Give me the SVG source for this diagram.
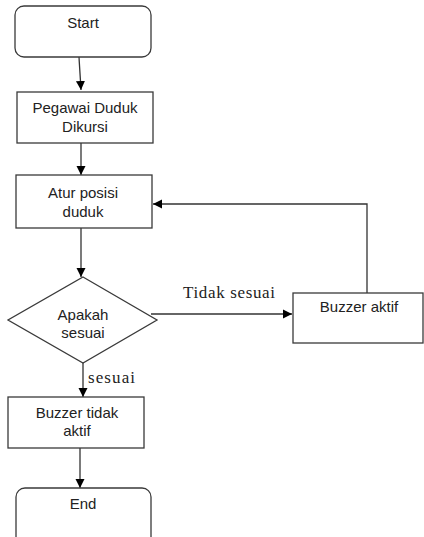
<svg xmlns="http://www.w3.org/2000/svg" width="424" height="537" viewBox="0 0 424 537">
<defs>
<marker id="ah" markerWidth="10" markerHeight="10" refX="9" refY="5" orient="auto" markerUnits="userSpaceOnUse">
<path d="M0,0.5 L9,5 L0,9.5 Z" fill="#000"/>
</marker>
<style>
.n{fill:#fff;stroke:#3a3a3a;stroke-width:1.3}
.t{font-family:"Liberation Sans",Arial,sans-serif;font-size:15px;fill:#222;text-anchor:middle}
.s{font-family:"Liberation Serif","Times New Roman",serif;font-size:17px;fill:#222}
.c{fill:none;stroke:#333;stroke-width:1.3}
</style>
</defs>
<rect width="424" height="537" fill="#fff"/>
<g id="connectors">
<path class="c" d="M79,57 L81,90" marker-end="url(#ah)"/>
<path class="c" d="M81,143 L81,175" marker-end="url(#ah)"/>
<path class="c" d="M81,228 L81,277" marker-end="url(#ah)"/>
<path class="c" d="M151,314 L292,314" marker-end="url(#ah)"/>
<path class="c" d="M367,293 L367,204 L153,204" marker-end="url(#ah)"/>
<path class="c" d="M83,363 L83,397" marker-end="url(#ah)"/>
<path class="c" d="M80,448 L80,488" marker-end="url(#ah)"/>
<text class="s" x="183" y="298" textLength="92">Tidak sesuai</text>
<text class="s" x="88" y="383" font-size="16" textLength="47">sesuai</text>
</g>
<g id="start">
<rect class="n" x="15" y="6" width="136" height="51" rx="9"/>
<text class="t" x="83" y="28">Start</text>
</g>
<g id="pegawai">
<rect class="n" x="17" y="92" width="136" height="51"/>
<text class="t" x="85" y="113">Pegawai Duduk</text>
<text class="t" x="85" y="132">Dikursi</text>
</g>
<g id="atur">
<rect class="n" x="16" y="175" width="136" height="53"/>
<text class="t" x="83" y="198">Atur posisi</text>
<text class="t" x="83" y="217">duduk</text>
</g>
<g id="apakah">
<polygon class="n" points="83,277 157,320 83,363 8,320"/>
<text class="t" x="83" y="320">Apakah</text>
<text class="t" x="83" y="338">sesuai</text>
</g>
<g id="buzzer-aktif">
<rect class="n" x="293" y="293" width="130" height="50"/>
<text class="t" x="359" y="312">Buzzer aktif</text>
</g>
<g id="buzzer-tidak">
<rect class="n" x="8" y="397" width="136" height="51"/>
<text class="t" x="77" y="418">Buzzer tidak</text>
<text class="t" x="77" y="436">aktif</text>
</g>
<g id="end">
<rect class="n" x="16" y="488" width="135" height="60" rx="9"/>
<text class="t" x="83" y="509">End</text>
</g>
</svg>
